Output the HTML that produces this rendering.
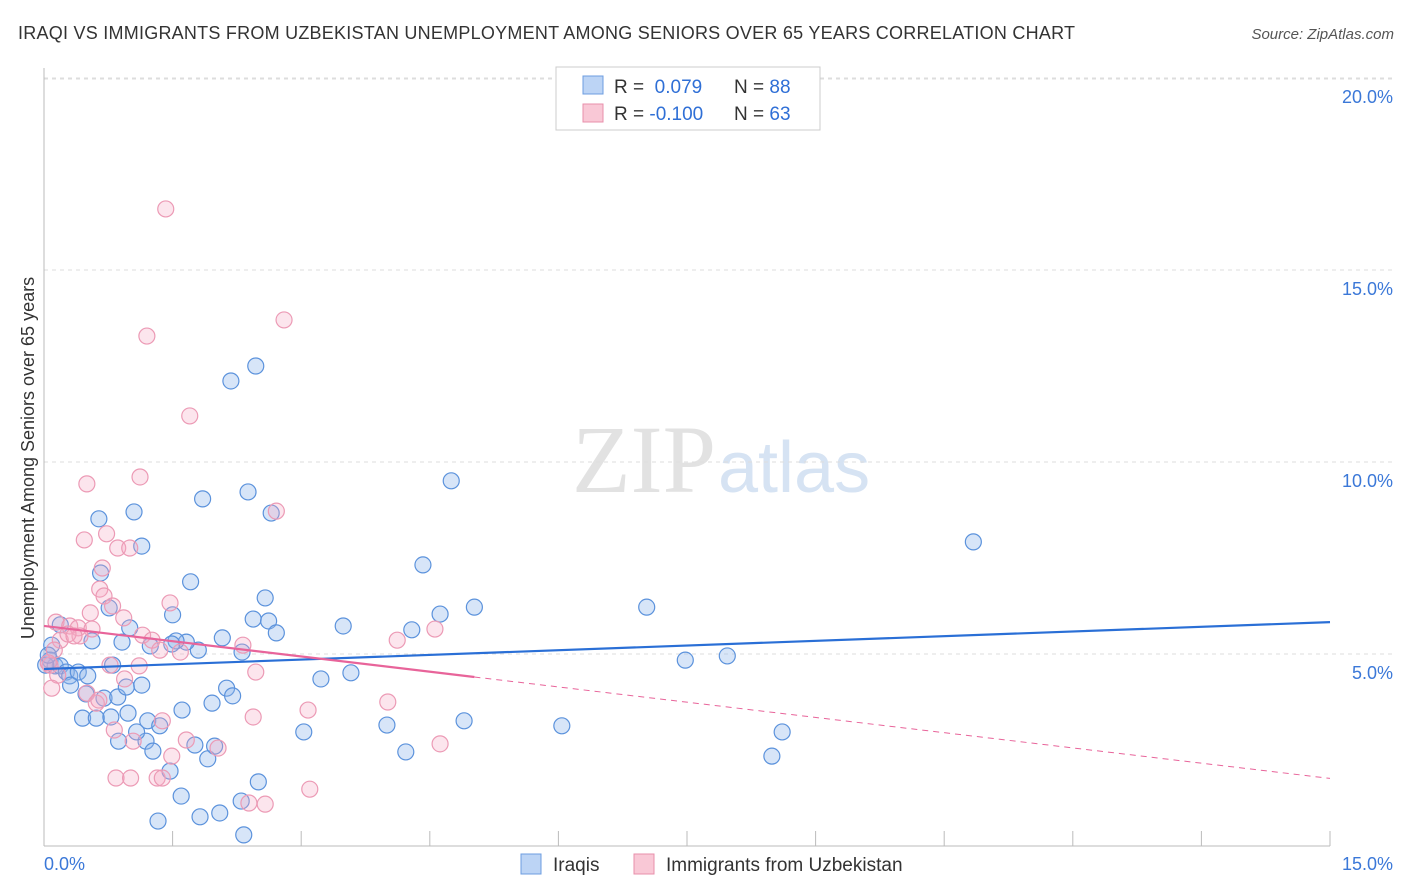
<!DOCTYPE html>
<html><head><meta charset="utf-8">
<style>
body{margin:0;background:#fff;font-family:"Liberation Sans",sans-serif;}
svg{display:block}
</style></head>
<body>
<svg id="chart" width="1406" height="892">
<text x="18" y="39" font-size="18" fill="#333" textLength="1057">IRAQI VS IMMIGRANTS FROM UZBEKISTAN UNEMPLOYMENT AMONG SENIORS OVER 65 YEARS CORRELATION CHART</text>
<text x="1394" y="39" font-size="15" fill="#555" font-style="italic" text-anchor="end">Source: ZipAtlas.com</text>
<text x="716" y="492" font-size="96" fill="#e2e2e2" text-anchor="end" font-family="Liberation Serif,serif">ZIP</text>
<text x="718" y="492" font-size="72" fill="#d6e3f3">atlas</text>
<g id="grid"></g>
<g id="marks"></g>
<text transform="translate(34,458) rotate(-90)" font-size="18" fill="#333" text-anchor="middle">Unemployment Among Seniors over 65 years</text>
<g>
<rect x="556" y="67" width="264" height="63" fill="#fff" stroke="#ccc"/>
<rect x="583" y="76" width="20" height="18" fill="#bcd4f5" stroke="#6c9de0"/>
<rect x="583" y="104" width="20" height="18" fill="#f9c8d6" stroke="#e88fab"/>
<text x="614" y="93" font-size="19" fill="#333">R = <tspan fill="#2f6fd6">&#160;0.079</tspan><tspan x="734">N = </tspan><tspan fill="#2f6fd6">88</tspan></text>
<text x="614" y="120" font-size="19" fill="#333">R = <tspan fill="#2f6fd6">-0.100</tspan><tspan x="734">N = </tspan><tspan fill="#2f6fd6">63</tspan></text>
</g>
<g>
<rect x="521" y="854" width="20" height="20" fill="#bcd4f5" stroke="#6c9de0"/>
<text x="553" y="871" font-size="19" fill="#333">Iraqis</text>
<rect x="634" y="854" width="20" height="20" fill="#f9c8d6" stroke="#e88fab"/>
<text x="666" y="871" font-size="19" fill="#333">Immigrants from Uzbekistan</text>
</g>
</svg>
<script>
const yTicks=[5,10,15,20];
const yTickLabels=["5.0%","10.0%","15.0%","20.0%"];
const xTicks=[0,1.5,3,4.5,6,7.5,9,10.5,12,13.5,15];
const xEndLabels=["0.0%","15.0%"];
const iraqiX=[0.64,1.05,1.14,0.66,0.76,1.00,0.91,1.24,1.50,1.71,1.85,2.18,2.47,2.38,2.65,2.58,2.44,2.62,2.71,2.08,2.31,1.80,1.66,1.54,1.49,0.80,0.56,0.19,0.09,0.07,0.13,0.19,0.26,0.30,0.40,0.51,0.31,0.49,0.70,0.86,0.96,1.14,0.45,0.61,0.78,0.98,1.21,1.35,1.61,1.96,2.13,2.20,1.19,1.08,0.87,1.27,1.47,1.76,1.91,1.99,1.60,1.33,1.82,2.05,2.30,2.50,2.33,3.23,3.58,3.03,3.49,4.29,4.42,4.62,5.02,4.75,4.00,4.22,4.90,6.04,7.03,7.48,7.97,8.61,8.49,10.84,0.02,0.05];
const iraqiY=[8.52,8.70,7.81,7.11,6.20,5.68,5.31,5.21,6.02,6.88,9.04,12.11,12.50,9.22,8.67,6.46,5.91,5.86,5.55,5.42,5.05,5.10,5.31,5.34,5.26,4.71,5.34,5.76,5.23,4.84,4.69,4.69,4.53,4.43,4.53,4.43,4.19,3.96,3.85,3.88,4.14,4.19,3.33,3.33,3.36,3.46,3.26,3.13,3.54,3.72,4.11,3.91,2.73,2.97,2.73,2.47,1.95,2.63,2.27,2.60,1.30,0.65,0.76,0.86,1.17,1.67,0.29,4.35,4.51,2.97,5.73,5.63,7.32,6.04,6.22,9.51,3.15,2.45,3.26,3.13,6.22,4.84,4.95,2.97,2.34,7.92,4.71,4.97];
const uzbX=[1.42,1.20,2.80,1.70,1.12,0.50,0.47,0.73,0.86,1.00,2.71,0.68,0.65,0.70,0.80,0.93,1.47,0.14,0.30,0.40,0.54,0.56,0.42,0.19,0.12,0.07,0.16,0.09,0.05,1.15,1.26,1.59,1.35,2.32,2.47,1.11,0.94,0.77,0.50,0.61,0.64,0.82,1.04,1.38,1.66,1.49,2.03,2.44,3.08,4.12,4.56,4.01,4.62,0.84,1.01,1.32,1.38,2.39,2.58,3.10,0.28,0.35];
const uzbY=[16.59,13.28,13.70,11.20,9.61,9.43,7.97,8.13,7.76,7.76,8.72,7.24,6.69,6.51,6.25,5.94,6.33,5.83,5.73,5.68,6.07,5.65,5.47,5.36,5.10,4.71,4.45,4.11,4.77,5.49,5.36,5.05,5.10,5.23,4.53,4.69,4.35,4.71,3.98,3.72,3.80,3.02,2.73,3.26,2.76,2.34,2.55,3.36,3.54,5.36,5.65,3.75,2.66,1.77,1.77,1.77,1.77,1.12,1.09,1.48,5.52,5.47];
const iraqiTrend=[4.61,5.83];
const uzbTrend=[5.73,1.76];
const uzbSolidEnd=5.02;

const X0=44,X1=1330,Y0=846,PX_PER_PCT=38.4;
function sx(v){return X0+(X1-X0)*v/15;}
function sy(v){return Y0-v*PX_PER_PCT;}
const NS="http://www.w3.org/2000/svg";
function mk(tag,attrs,parent){const e=document.createElementNS(NS,tag);for(const k in attrs)e.setAttribute(k,attrs[k]);parent.appendChild(e);return e;}
const grid=document.getElementById('grid'),marks=document.getElementById('marks');
mk('line',{x1:44,y1:79,x2:1394,y2:79,stroke:'#ddd','stroke-dasharray':'4,4'},grid);
yTicks.forEach((t,i)=>{
  const l=mk('line',{x1:44,y1:sy(t),x2:1394,y2:sy(t),stroke:'#ddd','stroke-dasharray':'4,4'},grid);
  
  
  const tx=mk('text',{x:1393,y:sy(t)+25,'font-size':18,fill:'#3b78d8','text-anchor':'end'},grid);
  tx.textContent=yTickLabels[i];
  
  
});
mk('line',{x1:44,y1:68,x2:44,y2:846,stroke:'#bbb'},grid);
mk('line',{x1:44,y1:846,x2:1330,y2:846,stroke:'#bbb'},grid);
xTicks.forEach(t=>{
  const l=mk('line',{x1:sx(t),y1:831,x2:sx(t),y2:846,stroke:'#bbb'},grid);
  
  
});
const xl0=mk('text',{x:44,y:870,'font-size':18,fill:'#3b78d8'},grid);xl0.textContent=xEndLabels[0];


const xl1=mk('text',{x:1393,y:870,'font-size':18,fill:'#3b78d8','text-anchor':'end'},grid);xl1.textContent=xEndLabels[1];



iraqiX.forEach((x,i)=>{
  const c=mk('circle',{cx:sx(x),cy:sy(iraqiY[i]),r:8,fill:'rgba(140,180,236,0.35)',stroke:'#5b92dc','stroke-width':1.2},marks);
  
  
});
uzbX.forEach((x,i)=>{
  const c=mk('circle',{cx:sx(x),cy:sy(uzbY[i]),r:8,fill:'rgba(246,170,196,0.3)',stroke:'#ec9ab5','stroke-width':1.2},marks);
  
  
});
const bl=mk('line',{x1:sx(0),y1:sy(iraqiTrend[0]),x2:sx(15),y2:sy(iraqiTrend[1]),stroke:'#2a6fd6','stroke-width':2.2},marks);


const uAt=v=>uzbTrend[0]+(uzbTrend[1]-uzbTrend[0])*v/15;
const pl=mk('line',{x1:sx(0),y1:sy(uzbTrend[0]),x2:sx(uzbSolidEnd),y2:sy(uAt(uzbSolidEnd)),stroke:'#e8649a','stroke-width':2.2},marks);


const pd=mk('line',{x1:sx(uzbSolidEnd),y1:sy(uAt(uzbSolidEnd)),x2:sx(15),y2:sy(uzbTrend[1]),stroke:'#e8649a','stroke-width':1,'stroke-dasharray':'6,5'},marks);


</script>
</body></html>
